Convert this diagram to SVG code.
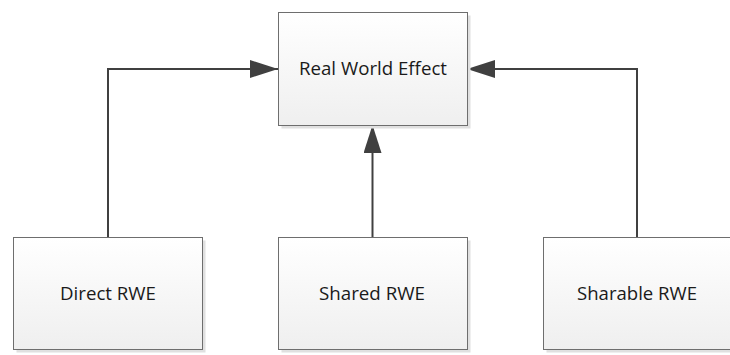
<svg xmlns="http://www.w3.org/2000/svg" width="730" height="355" viewBox="0 0 730 355">
  <style>
    .shadow { fill: #e0e0e0; }
    .box { fill: url(#boxFill); stroke: #6e6e6e; stroke-width: 1; }
    .label { font-family: "Open Sans", "Liberation Sans", sans-serif; font-size: 17.5px; fill: #1a1a1a; text-anchor: middle; dominant-baseline: central; }
    .wire { fill: none; stroke: #404040; stroke-width: 2; }
  </style>
  <defs>
    <linearGradient id="boxFill" x1="0" y1="0" x2="0" y2="1">
      <stop offset="0" stop-color="#ffffff"/>
      <stop offset="1" stop-color="#efefef"/>
    </linearGradient>
    <marker id="arrow" markerUnits="userSpaceOnUse" markerWidth="28" markerHeight="18" refX="28" refY="9" orient="auto">
      <path d="M0,0 L28,9 L0,18 Z" fill="#404040"/>
    </marker>
  </defs>
  <rect width="730" height="355" fill="#ffffff"/>

  <g id="connectors">
    <path class="wire" d="M108,237 V69 H278" marker-end="url(#arrow)"/>
    <path class="wire" d="M372.5,237 V125" marker-end="url(#arrow)"/>
    <path class="wire" d="M637,237 V69 H467" marker-end="url(#arrow)"/>
  </g>

  <g id="real-world-effect">
    <rect class="shadow" x="281.5" y="15.5" width="189" height="113"/>
    <rect class="box" x="278.5" y="12.5" width="189" height="113"/>
    <text class="label" x="373" y="68" textLength="148" lengthAdjust="spacingAndGlyphs">Real World Effect</text>
  </g>

  <g id="direct-rwe">
    <rect class="shadow" x="16.5" y="240.5" width="189" height="112"/>
    <rect class="box" x="13.5" y="237.5" width="189" height="112"/>
    <text class="label" x="108" y="293" textLength="96" lengthAdjust="spacingAndGlyphs">Direct RWE</text>
  </g>

  <g id="shared-rwe">
    <rect class="shadow" x="281.5" y="240.5" width="189" height="112"/>
    <rect class="box" x="278.5" y="237.5" width="189" height="112"/>
    <text class="label" x="372" y="293" textLength="106" lengthAdjust="spacingAndGlyphs">Shared RWE</text>
  </g>

  <g id="sharable-rwe">
    <rect class="shadow" x="546.5" y="240.5" width="189" height="112"/>
    <rect class="box" x="543.5" y="237.5" width="189" height="112"/>
    <text class="label" x="637" y="293" textLength="120" lengthAdjust="spacingAndGlyphs">Sharable RWE</text>
  </g>
</svg>
